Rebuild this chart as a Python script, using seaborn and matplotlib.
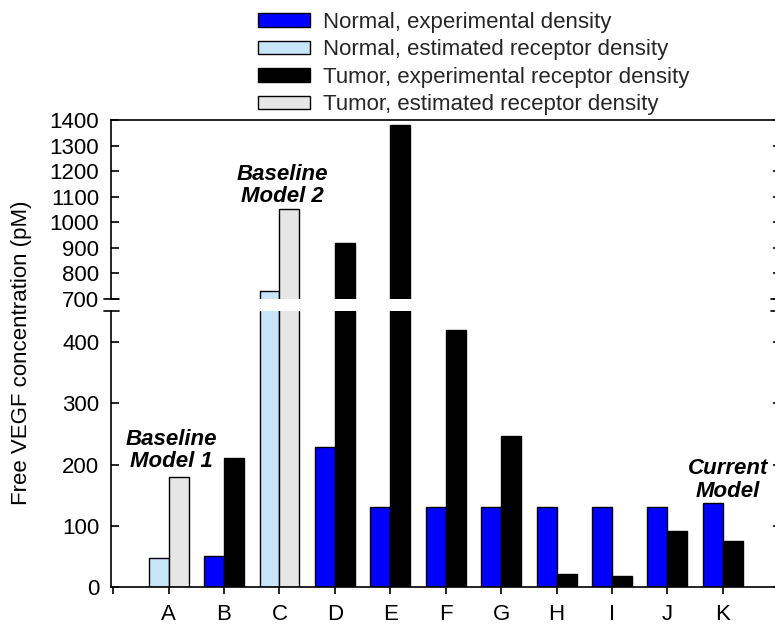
import numpy as np
import pandas as pd
import matplotlib
matplotlib.use("Agg")
import matplotlib.pyplot as plt
import seaborn as sns
from matplotlib.patches import Patch
from matplotlib.lines import Line2D

sns.set_theme(style="white")
plt.rcParams['font.family'] = ['Liberation Sans', 'DejaVu Sans']

categories = ["A", "B", "C", "D", "E", "F", "G", "H", "I", "J", "K"]
normal_values = [48, 50, 731, 229, 130, 130, 130, 130, 130, 130, 137]
tumor_values = [180, 210, 1050, 919, 1380, 420, 247, 22, 18, 91, 75]
# whether the bar is "estimated" receptor density (True) or experimental (False)
estimated = [True, False, True, False, False, False, False, False, False, False, False]

series_labels = ["Normal, experimental density",
                 "Normal, estimated receptor density",
                 "Tumor, experimental receptor density",
                 "Tumor, estimated receptor density"]
series_colors = ["#0000FF", "#C8E6FA", "#000000", "#E6E6E6"]

df = pd.DataFrame({
    "category": categories * 2,
    "tissue": ["Normal"] * len(categories) + ["Tumor"] * len(categories),
    "value": normal_values + tumor_values,
})

W, H = 775, 625
FS = 16
fig = plt.figure(figsize=(W / 100, H / 100), dpi=100)

left = 111 / W
width = (781 - 111) / W
ax_top = fig.add_axes([left, 1 - 299 / H, width, (299 - 120) / H])
ax_bot = fig.add_axes([left, 1 - 587 / H, width, (587 - 311) / H])

for ax in (ax_top, ax_bot):
    sns.barplot(data=df, x="category", y="value", hue="tissue",
                hue_order=["Normal", "Tumor"], order=categories,
                width=0.72, ax=ax, legend=False, edgecolor="black",
                linewidth=1.0, saturation=1)
    for ci, cont in enumerate(ax.containers):
        for i, bar in enumerate(cont.patches):
            if ci == 0:
                col = series_colors[1] if estimated[i] else series_colors[0]
            else:
                col = series_colors[3] if estimated[i] else series_colors[2]
            bar.set_facecolor(col)
            bar.set_edgecolor("black")
    ax.set_xlim(-1.04, 11.05)
    ax.set_xlabel("")
    ax.set_ylabel("")
    for s in ax.spines.values():
        s.set_color("black")
        s.set_linewidth(1.2)

ax_top.set_ylim(700, 1400)
ax_bot.set_ylim(0, 451)

ax_top.spines["bottom"].set_visible(False)
ax_bot.spines["top"].set_visible(False)

ax_top.set_yticks(np.arange(700, 1401, 100))
ax_bot.set_yticks(np.arange(0, 401, 100))
ax_top.set_xticks([])

for ax in (ax_top, ax_bot):
    ax.tick_params(axis="y", which="both", direction="in", length=5.8, width=1.2,
                   left=True, right=True, labelsize=FS, colors="black", pad=8.5)

ax_bot.set_xticks(np.arange(-1, 11))
ax_bot.set_xticklabels([""] + categories)
ax_bot.tick_params(axis="x", direction="out", length=5, width=1.2, bottom=True,
                   labelsize=FS, colors="black", pad=7)

# break marks
for yy in (299, 311):
    fig.add_artist(Line2D([104 / W, 119 / W], [1 - yy / H, 1 - yy / H],
                          color="black", lw=1.2))
    fig.add_artist(Line2D([771 / W, 790 / W], [1 - yy / H, 1 - yy / H],
                          color="black", lw=1.2))

fig.text(22 / W, 1 - 353 / H, "Free VEGF concentration (pM)", rotation=90,
         ha="center", va="center", fontsize=FS, color="black")

ann = dict(ha="center", va="center", fontsize=FS, fontweight="bold",
           fontstyle="italic", color="black", linespacing=1.08)
ax_bot.text(0.05, 223, "Baseline\nModel 1", **ann)
ax_bot.text(10.09, 175, "Current\nModel", **ann)
ax_top.text(2.05, 1143, "Baseline\nModel 2", **ann)

handles = [Patch(facecolor=c, edgecolor="black", linewidth=1.0) for c in series_colors]
fig.legend(handles, series_labels, loc="upper left",
           bbox_to_anchor=(258 / W, 1 - 12 / H), frameon=False, fontsize=FS,
           handlelength=2.34, handleheight=0.57, handletextpad=0.58,
           labelspacing=0.29, borderpad=0, borderaxespad=0)

fig.savefig("out.png", dpi=100)
